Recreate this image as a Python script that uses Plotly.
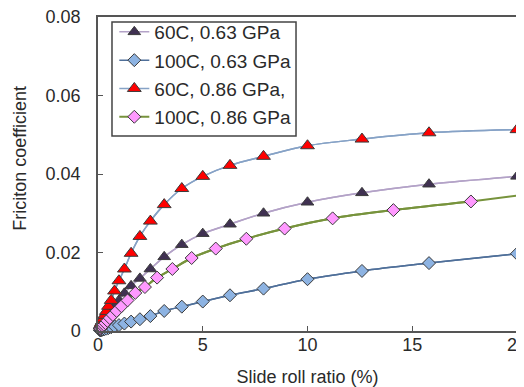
import plotly.graph_objects as go

# Slide roll ratio (%) sampling
x_log = [0.1, 0.126, 0.158, 0.2, 0.25, 0.316, 0.4, 0.5, 0.63, 0.79, 1.0, 1.26, 1.58,
         2.0, 2.5, 3.16, 4.0, 5.0, 6.3, 7.9, 10.0, 12.6, 15.8, 20.0]
x_pink = [0.112, 0.141, 0.178, 0.224, 0.282, 0.355, 0.447, 0.562, 0.708, 0.891, 1.12,
          1.41, 1.78, 2.24, 2.82, 3.55, 4.47, 5.62, 7.08, 8.91, 11.2, 14.1, 17.8]

y_60c_063 = [0.0008, 0.001, 0.0012, 0.0016, 0.002, 0.0025, 0.0031, 0.004, 0.005, 0.0063,
             0.0078, 0.0096, 0.0115, 0.0134, 0.0158, 0.0189, 0.0220, 0.0248, 0.0272,
             0.0300, 0.0328, 0.0352, 0.0374, 0.0394]
y_100c_063 = [0.00015, 0.0002, 0.00024, 0.0003, 0.00038, 0.00048, 0.0006, 0.00075,
              0.00095, 0.0012, 0.0015, 0.0019, 0.0024, 0.0030, 0.0038, 0.0051, 0.0062,
              0.0075, 0.0091, 0.0108, 0.0132, 0.0153, 0.0173, 0.0197]
y_60c_086 = [0.00125, 0.0016, 0.002, 0.0025, 0.0031, 0.004, 0.005, 0.0063, 0.0078,
             0.0102, 0.0128, 0.0158, 0.0198, 0.0241, 0.0280, 0.0322, 0.0363, 0.0394,
             0.0422, 0.0445, 0.0472, 0.0489, 0.0505, 0.0513]
y_100c_086 = [0.0006, 0.0008, 0.001, 0.0013, 0.0016, 0.002, 0.0026, 0.0033, 0.0041,
              0.0051, 0.0063, 0.0078, 0.0097, 0.0112, 0.0136, 0.0158, 0.0186, 0.0210,
              0.0235, 0.0261, 0.0287, 0.0308, 0.0330]
# fitted-curve tail of the 100C, 0.86 GPa series beyond its last marker
tail_x_100c_086 = [17.8, 20.0]
tail_y_100c_086 = [0.0330, 0.0345]

names = ["60C, 0.63 GPa", "100C, 0.63 GPa", "60C, 0.86 GPa,", "100C, 0.86 GPa"]
x_ticks = [0, 5, 10, 15, 20]
y_ticks = [0, 0.02, 0.04, 0.06, 0.08]
y_tick_text = ["0", "0.02", "0.04", "0.06", "0.08"]
x_title = "Slide roll ratio (%)"
y_title = "Friciton coefficient"

edge = "#3a3a3a"
series = [
    (x_log, y_60c_063, names[0], "#b3a2c7", "triangle-up", "#403152", 11),
    (x_log, y_100c_063, names[1], "#4f6f99", "diamond", "#8db3e2", 10),
    (x_log, y_60c_086, names[2], "#86a2c6", "triangle-up", "#ff0000", 12),
    (x_pink, y_100c_086, names[3], "#77933c", "diamond", "#ff99ff", 10),
]

FONT = "Liberation Sans, Arial"
TXT = "#2a2a2a"

fig = go.Figure()
fig.add_trace(go.Scatter(x=tail_x_100c_086, y=tail_y_100c_086, mode="lines",
                         line=dict(color="#77933c", width=2), showlegend=False,
                         hoverinfo="skip"))
for xs, ys, nm, lc, sym, fc, sz in series:
    lw = 2 if lc == "#77933c" else 1.5
    fig.add_trace(go.Scatter(
        x=[0] + xs, y=[0] + ys, mode="lines", line=dict(color=lc, width=lw, shape="spline"),
        showlegend=False, hoverinfo="skip"))
for i, (xs, ys, nm, lc, sym, fc, sz) in enumerate(series):
    lw = 2 if lc == "#77933c" else 1.5
    fig.add_trace(go.Scatter(
        x=xs, y=ys, name=nm, mode="lines+markers", legendgroup=f"g{i}",
        cliponaxis=False,
        line=dict(color=lc, width=lw, shape="spline"),
        marker=dict(symbol=sym, size=sz, color=fc, line=dict(color=edge, width=1))))

# legend frame drawn as a paper-space rectangle
fig.add_shape(type="rect", xref="paper", yref="paper",
              x0=0.0334, x1=0.4726, y0=0.6209, y1=0.9837,
              line=dict(color="#444444", width=1.5), fillcolor="white", layer="above")

# y-axis title as a rotated annotation to the left of the tick labels
fig.add_annotation(text=y_title, xref="paper", yref="paper", x=-0.186, y=0.549,
                   xanchor="center", yanchor="middle", textangle=-90, showarrow=False,
                   font=dict(family=FONT, size=18, color=TXT))

axis_common = dict(showline=True, linecolor="#555555", linewidth=1.5, mirror=True,
                   ticks="inside", ticklen=5, tickcolor="#555555", showgrid=False,
                   zeroline=False, automargin=False, ticklabeloverflow="allow",
                   tickfont=dict(family=FONT, size=18, color=TXT))
# the page body adds an 8px offset; plot area spans x 98..517, y 17..323 in the window
fig.update_layout(
    width=524, height=379,
    margin=dict(l=90, r=15, t=9, b=56, autoexpand=False),
    paper_bgcolor="white", plot_bgcolor="white",
    font=dict(family=FONT, size=18, color=TXT),
    xaxis=dict(range=[0, 20], tickvals=x_ticks, ticklabelstandoff=-3,
               title=dict(text=x_title, standoff=19,
                          font=dict(size=18, color=TXT)), **axis_common),
    yaxis=dict(range=[0, 0.08], tickvals=y_ticks, ticktext=y_tick_text,
               ticklabelstandoff=12, **axis_common),
    legend=dict(xref="container", yref="container", x=0.2029, y=0.9868,
                xanchor="left", yanchor="top",
                bgcolor="rgba(0,0,0,0)", borderwidth=0,
                font=dict(size=19, color=TXT), itemwidth=30,
                traceorder="grouped", tracegroupgap=0.6),
    showlegend=True,
)
fig.write_html("out.html")
